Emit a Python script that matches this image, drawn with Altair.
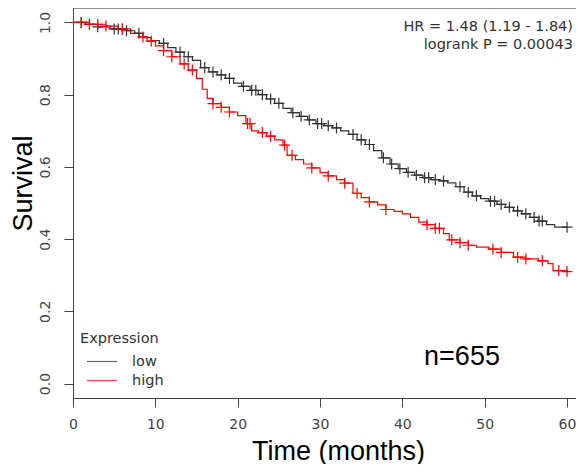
import altair as alt
import numpy as np
import pandas as pd

# ---------------- data ----------------
groups = ["low", "high"]
group_colors = ["#333333", "#ff0000"]
legend_line_colors = ["#666666", "#ff4040"]

low_t = [0, 1.5, 3, 4.5, 6.5, 7.5, 8.5, 9.5, 10.5, 11.5, 12.5, 13.5, 14.5, 15.5, 16.5,
         17.5, 18.5, 19.5, 20.5, 21.5, 22.5, 23.5, 24.5, 25.5, 26.5, 27.5, 28.5, 29.5,
         30.5, 31.5, 32.5, 33.5, 34.5, 35.5, 36.5, 37.5, 38.5, 39.5, 40.5, 41.5, 42.5,
         43.5, 44.5, 45.5, 46.5, 47.5, 48.5, 49.5, 50.5, 51.5, 52.5, 53.5, 54.5, 55.5,
         56.5, 57.5, 58.5, 60]
low_s = [1.0, 0.995, 0.988, 0.982, 0.977, 0.97, 0.958, 0.95, 0.942, 0.93, 0.918, 0.905,
         0.895, 0.875, 0.863, 0.855, 0.845, 0.832, 0.823, 0.812, 0.80, 0.788, 0.776, 0.762,
         0.75, 0.74, 0.73, 0.72, 0.714, 0.708, 0.70, 0.69, 0.675, 0.662, 0.645, 0.625,
         0.608, 0.595, 0.585, 0.577, 0.57, 0.565, 0.561, 0.556, 0.545, 0.53, 0.52, 0.512,
         0.505, 0.496, 0.488, 0.478, 0.47, 0.46, 0.45, 0.44, 0.433, 0.433]

high_t = [0, 2, 4, 5.5, 7, 8, 9, 10, 11, 12, 13, 14, 15, 15.7, 16.3, 17, 18, 19, 20, 21,
          21.7, 22.5, 23.5, 24.5, 25.5, 26, 27, 28, 29, 30, 31, 32, 33, 34, 35, 36, 37,
          38, 39, 40, 41, 42, 43, 44, 45, 45.7, 47, 48, 49, 50.5, 52, 53.5, 55, 56.5,
          57.7, 58.3, 60]
high_s = [1.0, 0.995, 0.99, 0.982, 0.97, 0.96, 0.948, 0.935, 0.922, 0.905, 0.885, 0.868,
          0.845, 0.815, 0.79, 0.775, 0.765, 0.752, 0.742, 0.72, 0.70, 0.695, 0.685, 0.675,
          0.66, 0.632, 0.62, 0.608, 0.597, 0.584, 0.575, 0.565, 0.555, 0.527, 0.515, 0.503,
          0.495, 0.482, 0.477, 0.47, 0.46, 0.447, 0.44, 0.43, 0.415, 0.398, 0.39, 0.383,
          0.378, 0.372, 0.363, 0.35, 0.345, 0.34, 0.332, 0.313, 0.31]

low_cens = [1, 2, 3, 5, 5.5, 6, 6.5, 8, 11, 13, 14, 16, 17, 18, 19, 20.7, 21.7, 22.2, 23,
            24, 25, 26.7, 27.7, 28.7, 29.7, 30.2, 31, 32, 34, 35, 36, 37.7, 38.7, 39.7,
            40.7, 41.7, 42.7, 43.2, 44, 45, 47, 48, 49, 50.7, 51.2, 52, 53, 54, 55, 56,
            56.6, 57, 60]
high_cens = [1, 2, 3, 4, 6, 8.5, 9.5, 11, 12, 13.5, 14.5, 17, 18, 19, 21.2, 21.5, 23, 24,
             25.7, 26.6, 29, 31, 33, 34.5, 36, 38, 43, 44, 44.5, 46, 47, 48, 51, 52, 54,
             55, 57, 59, 60]

stats_text = ["HR = 1.48 (1.19 - 1.84)", "logrank P = 0.00043"]
n_text = ["n=655"]
legend_title = ["Expression"]


def step_value(ts, ss, t):
    idx = np.searchsorted(np.asarray(ts), t, side="right") - 1
    return np.asarray(ss)[idx]


curves = pd.concat([
    pd.DataFrame({"time": low_t, "surv": low_s, "group": "low"}),
    pd.DataFrame({"time": high_t, "surv": high_s, "group": "high"}),
], ignore_index=True)

cens = pd.concat([
    pd.DataFrame({"time": low_cens, "surv": step_value(low_t, low_s, low_cens), "group": "low"}),
    pd.DataFrame({"time": high_cens, "surv": step_value(high_t, high_s, high_cens), "group": "high"}),
], ignore_index=True)

one = pd.DataFrame({"k": [0]})

# ---------------- chart ----------------
W, H = 503, 390
GRAY = "#444444"

x_scale = alt.Scale(domain=[0, 61.09], nice=False, zero=False)
y_scale = alt.Scale(domain=[-0.04, 1.04], nice=False, zero=False)
color_scale = alt.Scale(domain=groups, range=group_colors)

x_axis = alt.Axis(values=[0, 10, 20, 30, 40, 50, 60], title="Time (months)",
                  grid=False, domainColor=GRAY, tickColor=GRAY, tickSize=9,
                  labelFont="DejaVu Sans", labelFontSize=14, labelColor=GRAY,
                  labelPadding=10, labelBaseline="top", labelFlush=False,
                  titleFont="Liberation Sans", titleFontSize=27, titleFontWeight="normal",
                  titleColor="black", titleX=265, titleY=40, titleBaseline="top",
                  titleAlign="center")
y_axis = alt.Axis(values=[0, 0.2, 0.4, 0.6, 0.8, 1.0], format=".1f", title="Survival",
                  grid=False, domainColor=GRAY, tickColor=GRAY, tickSize=9,
                  labelFont="DejaVu Sans", labelFontSize=14, labelColor=GRAY,
                  labelAngle=270, labelAlign="center", labelBaseline="bottom",
                  labelPadding=12, labelFlush=False,
                  titleFont="Liberation Sans", titleFontSize=27, titleFontWeight="normal",
                  titleColor="black", titleAngle=270, titleX=-50, titleY=175,
                  titleBaseline="middle", titleAlign="center")

lines = alt.Chart(curves).mark_line(interpolate="step-after", strokeWidth=1.2).encode(
    x=alt.X("time:Q", scale=x_scale, axis=x_axis),
    y=alt.Y("surv:Q", scale=y_scale, axis=y_axis),
    color=alt.Color("group:N", scale=color_scale, legend=None),
)

marks = alt.Chart(cens).mark_point(
    shape="M-1,0L1,0M0,-1L0,1", filled=False, size=121, strokeWidth=1.2, opacity=1
).encode(
    x=alt.X("time:Q", scale=x_scale),
    y=alt.Y("surv:Q", scale=y_scale),
    color=alt.Color("group:N", scale=color_scale, legend=None),
)

top_border = alt.Chart(one).mark_rule(color=GRAY, strokeWidth=1).encode(
    x=alt.value(0), x2=alt.value(W), y=alt.value(0)
)

stat_layers = []
for i, s in enumerate(stats_text):
    stat_layers.append(alt.Chart(pd.DataFrame({"label": [s]})).mark_text(
        align="right", baseline="middle", font="DejaVu Sans", fontSize=14.5, color="#333333"
    ).encode(x=alt.value(500), y=alt.value(19 + 18 * i), text="label:N"))

n_txt = alt.Chart(pd.DataFrame({"label": n_text})).mark_text(
    align="center", baseline="middle", font="Liberation Sans", fontSize=27, color="black"
).encode(x=alt.value(389), y=alt.value(349), text="label:N")

leg_title = alt.Chart(pd.DataFrame({"label": legend_title})).mark_text(
    align="left", baseline="middle", font="DejaVu Sans", fontSize=14.5, color="#333333"
).encode(x=alt.value(7), y=alt.value(331), text="label:N")

leg_df = pd.DataFrame({"group": groups, "lc": legend_line_colors, "row": [0, 1]})
leg_scale = alt.Scale(domain=[0, 1], range=[353.5, 372.5])
leg_lines = alt.Chart(leg_df).mark_rule(strokeWidth=1.2).encode(
    x=alt.value(14), x2=alt.value(44),
    y=alt.Y("row:Q", scale=leg_scale, axis=None),
    color=alt.Color("lc:N", scale=None, legend=None),
)
leg_labels = alt.Chart(leg_df).mark_text(
    align="left", baseline="middle", font="DejaVu Sans", fontSize=14.5, color="#333333"
).encode(
    x=alt.value(59),
    y=alt.Y("row:Q", scale=leg_scale, axis=None),
    text="group:N",
)

main = alt.layer(top_border, lines, marks)
overlay = alt.layer(*stat_layers, n_txt, leg_title, leg_lines, leg_labels)

chart = alt.layer(main, overlay).resolve_scale(y="independent", color="independent").properties(
    width=W, height=H,
    padding={"left": 65, "top": 0, "right": 0, "bottom": 66},
    autosize=alt.AutoSizeParams(type="none"),
).configure_view(stroke=None).configure(background="white")

chart.save("out.html", embed_options={"renderer": "svg", "actions": False})
